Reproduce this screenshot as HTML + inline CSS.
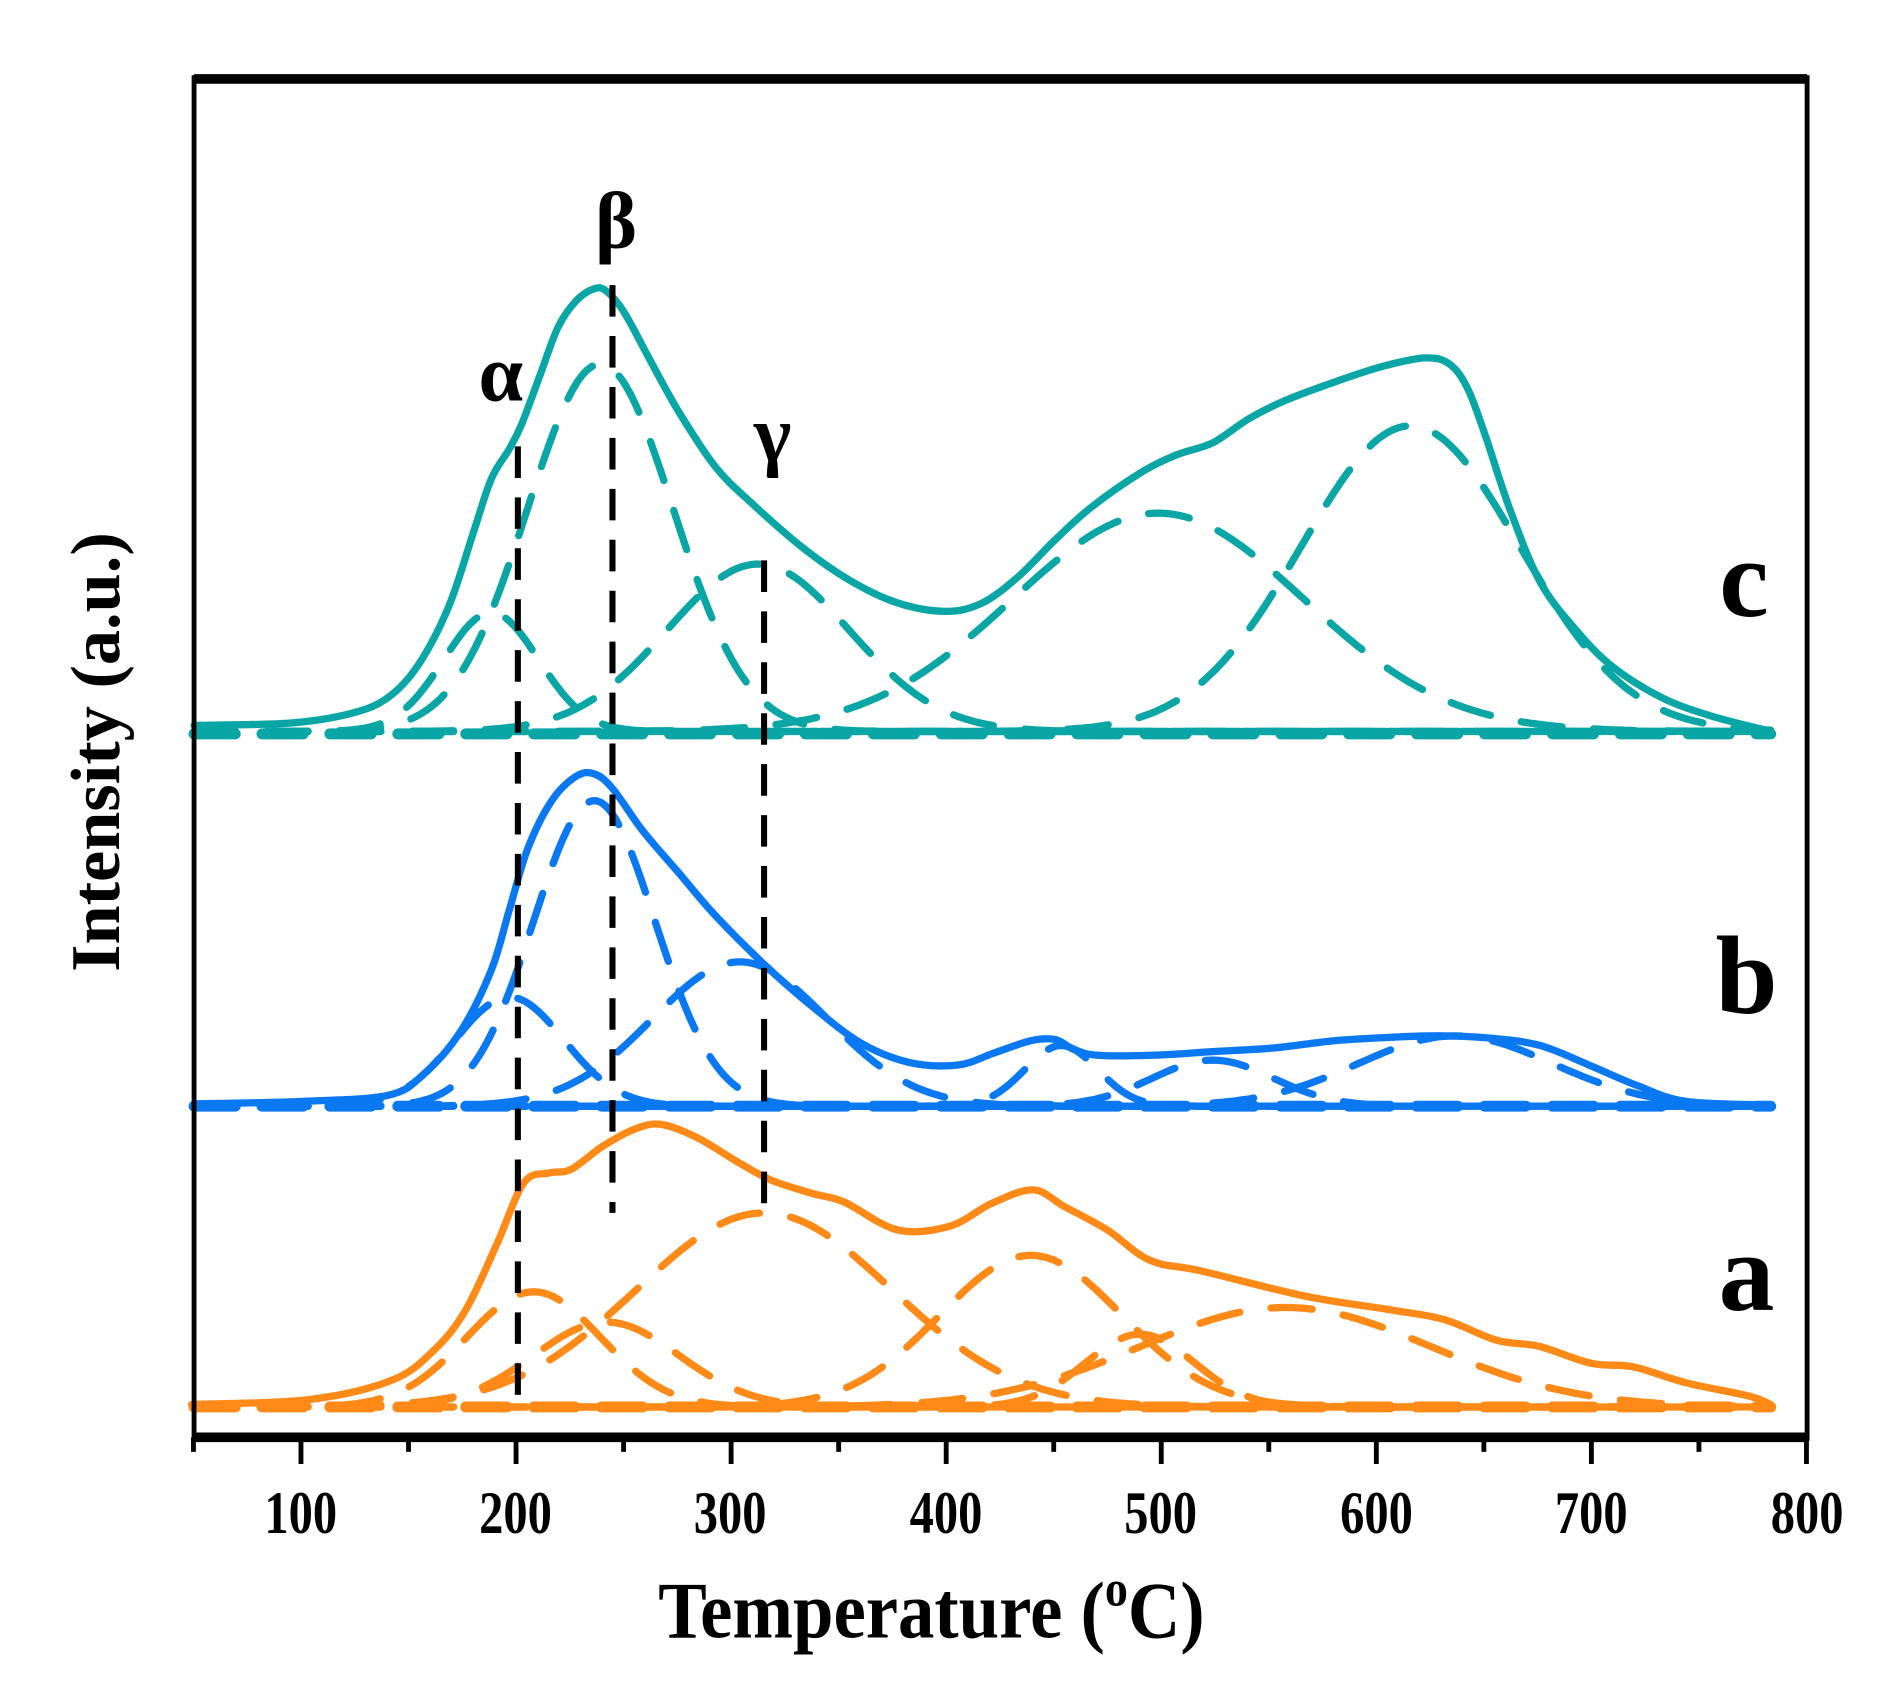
<!DOCTYPE html>
<html><head><meta charset="utf-8"><style>
html,body{margin:0;padding:0;background:#fff;}
svg{display:block;}
text{font-family:"Liberation Serif","DejaVu Serif",serif;font-weight:bold;fill:#000;}
</style></head><body>
<svg id="s" width="1892" height="1703" viewBox="0 0 1560 1404" xmlns="http://www.w3.org/2000/svg">
<rect width="1560" height="1404" fill="#fff"/>
<g id="curves" fill="none" stroke-linejoin="round" stroke-linecap="round"></g>
<g stroke="#000" stroke-width="5" stroke-dasharray="26,16">
<line x1="427" y1="368" x2="427" y2="1160"/>
<line x1="505" y1="235" x2="505" y2="1000"/>
<line x1="630" y1="462" x2="630" y2="1000"/>
</g>
<g stroke="#000" fill="none">
<line x1="160" y1="65" x2="1490" y2="65" stroke-width="8"/>
<line x1="160" y1="1185" x2="1490" y2="1185" stroke-width="8"/>
<line x1="160" y1="62" x2="160" y2="1188" stroke-width="4"/>
<line x1="1490" y1="62" x2="1490" y2="1188" stroke-width="4"/>
</g>
<g id="ticks" stroke="#000" stroke-width="4"></g>
<g font-size="40" text-anchor="middle">
<text x="248" y="1264" transform="translate(248,1264) scale(1,1.25) translate(-248,-1264)">100</text>
<text x="425" y="1264" transform="translate(425,1264) scale(1,1.25) translate(-425,-1264)">200</text>
<text x="602" y="1264" transform="translate(602,1264) scale(1,1.25) translate(-602,-1264)">300</text>
<text x="780" y="1264" transform="translate(780,1264) scale(1,1.25) translate(-780,-1264)">400</text>
<text x="957" y="1264" transform="translate(957,1264) scale(1,1.25) translate(-957,-1264)">500</text>
<text x="1135" y="1264" transform="translate(1135,1264) scale(1,1.25) translate(-1135,-1264)">600</text>
<text x="1312" y="1264" transform="translate(1312,1264) scale(1,1.25) translate(-1312,-1264)">700</text>
<text x="1490" y="1264" transform="translate(1490,1264) scale(1,1.25) translate(-1490,-1264)">800</text>
</g>
<text x="768" y="1350" font-size="60" text-anchor="middle" transform="translate(768,1350) scale(1,1.1) translate(-768,-1350)">Temperature (<tspan font-size="38" dy="-24">o</tspan><tspan dy="24">C)</tspan></text>
<text transform="translate(98,620) rotate(-90)" font-size="58" text-anchor="middle">Intensity (a.u.)</text>
<g font-size="66" text-anchor="middle">
<text x="413" y="330">α</text><text x="508" y="204">β</text><text x="637" y="380">γ</text>
</g>
<g font-size="92" text-anchor="middle">
<text x="1438" y="508">c</text><text x="1440" y="835">b</text><text x="1440" y="1080">a</text>
</g>
</svg>
<script>
var NS="http://www.w3.org/2000/svg";
var g=document.getElementById('curves');
function add(tag,attrs){var e=document.createElementNS(NS,tag);for(var k in attrs)e.setAttribute(k,attrs[k]);g.appendChild(e);return e;}
function gauss(base,c,h,s,col){var p=[];for(var x=160;x<=1460;x+=4){var y=base-h*Math.exp(-(x-c)*(x-c)/(2*s*s));p.push(x+','+y.toFixed(1));}
 add('polyline',{points:p.join(' '),stroke:col,'stroke-width':6,'stroke-dasharray':'34,26'});}
function base(y,col){add('line',{x1:160,y1:y,x2:1460,y2:y,stroke:col,'stroke-width':9,'stroke-dasharray':'34,22'});}
function solid(pts,col){var d='M'+pts[0][0]+','+pts[0][1];
 for(var i=0;i<pts.length-1;i++){var p0=pts[Math.max(0,i-1)],p1=pts[i],p2=pts[i+1],p3=pts[Math.min(pts.length-1,i+2)];
  var c1x=p1[0]+(p2[0]-p0[0])/6,c1y=p1[1]+(p2[1]-p0[1])/6,c2x=p2[0]-(p3[0]-p1[0])/6,c2y=p2[1]-(p3[1]-p1[1])/6;
  d+=' C'+c1x.toFixed(1)+','+c1y.toFixed(1)+' '+c2x.toFixed(1)+','+c2y.toFixed(1)+' '+p2[0]+','+p2[1];}
 add('path',{d:d,stroke:col,'stroke-width':6});}
var C='#0AA6A6',B='#0A78F0',A='#FF8A17';
base(605,C);
gauss(603,405,98,39,C);gauss(603,495,303,60,C);gauss(603,625,138,75,C);gauss(603,955,180,120,C);gauss(603,1163,252,90,C);
solid([[160,598],[240,596],[290,588],[320,575],[345,548],[370,500],[390,440],[405,395],[420,370],[430,350],[445,310],[460,270],[475,248],[490,238],[500,240],[515,258],[535,295],[560,340],[590,385],[620,415],[660,450],[700,478],[740,497],[780,504],[810,497],[840,475],[870,445],[900,418],[940,390],[970,375],[1000,365],[1030,345],[1060,330],[1100,315],[1140,302],[1175,295],[1195,300],[1210,320],[1225,360],[1245,420],[1270,480],[1300,520],[1330,550],[1370,575],[1410,590],[1460,603]],C);
base(912,B);
gauss(912,420,90,45,B);gauss(912,490,252,50,B);gauss(912,610,119,72,B);gauss(912,875,50,30,B);gauss(912,1000,38,50,B);gauss(912,1200,58,80,B);
solid([[160,910],[250,908],[320,903],[350,885],[380,850],[405,800],[420,750],[435,700],[455,660],[475,640],[490,638],[505,650],[530,685],[560,720],[590,755],[630,795],[670,830],[710,860],[750,876],[790,878],[820,868],[850,858],[870,857],[885,865],[905,870],[950,870],[1000,867],[1050,864],[1100,858],[1150,855],[1190,854],[1230,856],[1270,862],[1310,878],[1350,895],[1390,908],[1460,911]],B);
base(1160,A);
gauss(1160,440,95,55,A);gauss(1160,500,70,60,A);gauss(1160,630,160,105,A);gauss(1160,850,125,75,A);gauss(1160,940,60,45,A);gauss(1160,1060,82,120,A);
solid([[158,1158],[254,1154],[323,1138],[358,1113],[384,1080],[410,1025],[432,975],[453,967],[471,964],[497,945],[523,931],[545,927],[575,938],[610,959],[636,973],[670,984],[696,991],[740,1014],[783,1011],[818,992],[852,981],[878,995],[913,1014],[948,1039],[991,1048],[1078,1069],[1147,1080],[1191,1088],[1234,1105],[1269,1110],[1312,1124],[1347,1127],[1390,1140],[1442,1151],[1460,1158]],A);
var t=document.getElementById('ticks');
for(var v=50;v<=800;v+=50){var x=159.5+(v-50)*1.7733;var L=(v%100===0)?22:12;
 var l=document.createElementNS(NS,'line');l.setAttribute('x1',x);l.setAttribute('x2',x);l.setAttribute('y1',1185);l.setAttribute('y2',1185+L);t.appendChild(l);}
</script>
</body></html>
